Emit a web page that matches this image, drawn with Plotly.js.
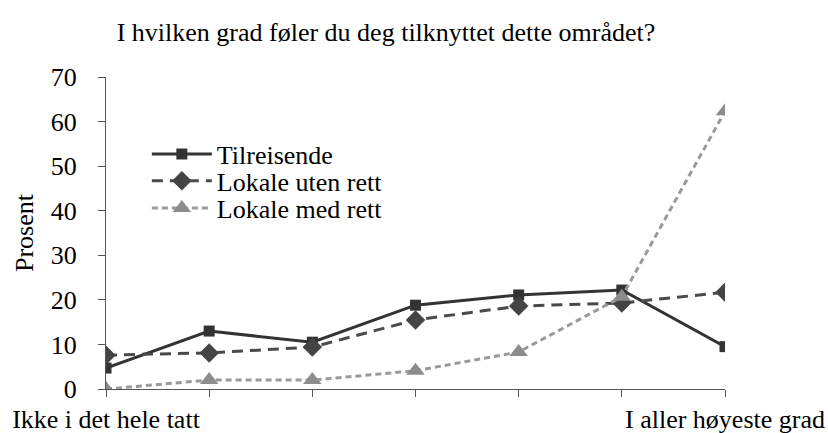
<!DOCTYPE html>
<html><head><meta charset="utf-8">
<script src="https://cdn.plot.ly/plotly-3.0.1.min.js"></script>
<style>html,body{margin:0;padding:0;background:#fff}#c{width:828px;height:433px}</style>
</head><body><div id="c"></div>
<script>
const categories = [1, 2, 3, 4, 5, 6, 7];
const tickLabels = ["Ikke i det hele tatt", "", "", "", "", "", "I aller høyeste grad"];
const tilreisende = [4.7, 13.0, 10.5, 18.8, 21.1, 22.2, 9.5];
const lokaleUtenRett = [7.6, 8.1, 9.4, 15.5, 18.6, 19.3, 21.7];
const lokaleMedRett = [0, 2.0, 2.0, 4.1, 8.3, 20.7, 62.3];
const seriesNames = ["Tilreisende", "Lokale uten rett", "Lokale med rett"];

const font = "Liberation Serif";
const fs = 26;
const traces = [
  {x: categories, y: tilreisende, name: seriesNames[0], mode: "lines+markers", legend: "legend",
   line: {color: "#333333", width: 3}, marker: {symbol: "square", size: 11, color: "#333333"}},
  {x: categories, y: lokaleUtenRett, name: seriesNames[1], mode: "lines+markers", legend: "legend2",
   line: {color: "#4a4a4a", width: 3, dash: "11px,7px"}, marker: {symbol: "diamond", size: 15, color: "#444444"}},
  {x: categories, y: lokaleMedRett, name: seriesNames[2], mode: "lines+markers", legend: "legend3",
   line: {color: "#9a9a9a", width: 3, dash: "6px,4px"}, marker: {symbol: "triangle-up", size: 16, color: "#8c8c8c"}}
];
const leg = (y) => ({x: 0.066, y: y, xanchor: "left", yanchor: "middle", bgcolor: "rgba(0,0,0,0)",
  font: {family: font, size: fs, color: "#000"}, itemwidth: 60});
const layout = {
  width: 828, height: 433,
  margin: {l: 106, r: 103, t: 77, b: 44},
  paper_bgcolor: "#fff", plot_bgcolor: "#fff",
  font: {family: font, size: fs, color: "#000"},
  title: {text: "I hvilken grad føler du deg tilknyttet dette området?", font: {family: font, size: fs, color: "#000"},
          x: 386/828, xanchor: "center", xref: "container", y: 1 - 32/433, yanchor: "middle", yref: "container"},
  xaxis: {range: [1, 7], tickmode: "array", tickvals: categories, ticktext: tickLabels,
          showgrid: false, zeroline: false, showline: true, linecolor: "#555", linewidth: 1,
          ticks: "outside", ticklen: 7, tickcolor: "#555", tickfont: {family: font, size: fs, color: "#000"}},
  yaxis: {range: [0, 70], dtick: 10, showgrid: false, zeroline: false, showline: true, linecolor: "#555", linewidth: 1,
          ticks: "outside", ticklen: 7, tickcolor: "#555", tickfont: {family: font, size: fs, color: "#000"},
          ticklabelstandoff: 16,
          title: {text: "Prosent", font: {family: font, size: fs, color: "#000"}, standoff: 9}},
  legend: leg(0.753),
  legend2: leg(0.667),
  legend3: leg(0.580),
  showlegend: true
};
Plotly.newPlot("c", traces, layout, {staticPlot: true, displayModeBar: false});
</script></body></html>
